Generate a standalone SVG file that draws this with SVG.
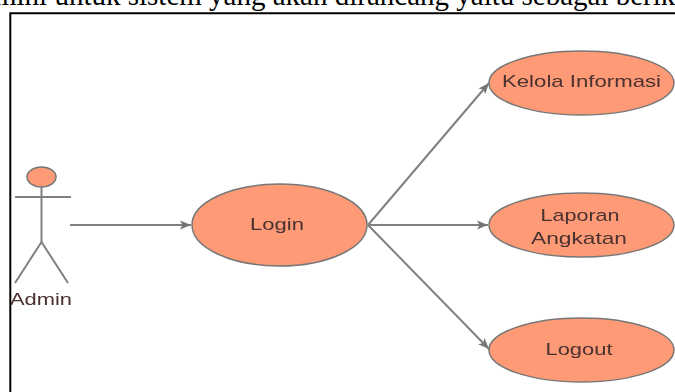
<svg xmlns="http://www.w3.org/2000/svg" width="675" height="392" viewBox="0 0 675 392">
<style>
.uc{fill:#fe9a75;stroke:#777;stroke-width:1.500}
.ln{fill:none;stroke:#808080;stroke-width:2}
.t{font-family:"Liberation Sans",Arial,sans-serif;font-size:17px;fill:#4a3030;text-anchor:middle}
</style>
<defs>
<marker id="a" markerUnits="userSpaceOnUse" markerWidth="12" markerHeight="10" refX="11" refY="5" orient="auto"><path d="M0 0.500L11 5L0 9.500L2.500 5Z" fill="#757575"/></marker>
<filter id="b" x="-5%" y="-5%" width="110%" height="110%"><feGaussianBlur stdDeviation="0.500"/></filter>
</defs>
<rect width="675" height="392" fill="#fff"/>
<text x="-6" y="5" font-family="Liberation Serif,Times New Roman,serif" font-size="29" fill="#000">mini untuk sistem yang akan dirancang yaitu sebagai berikut</text>
<path d="M10.300 392V13.300H675" fill="none" stroke="#000" stroke-width="2"/>
<g filter="url(#b)">
<g id="connectors">
<path class="ln" d="M70 225H191" marker-end="url(#a)"/>
<path class="ln" d="M368 225L489 83" marker-end="url(#a)"/>
<path class="ln" d="M368 225H488" marker-end="url(#a)"/>
<path class="ln" d="M368 225L489 349" marker-end="url(#a)"/>
</g>
<g id="actor-admin">
<ellipse class="uc" cx="41.500" cy="177" rx="14.500" ry="10"/>
<path class="ln" d="M15 197H71M41.500 187V242M41.500 242L15 283M41.500 242L68 283"/>
<text class="t" x="41" y="305" textLength="62" lengthAdjust="spacingAndGlyphs">Admin</text>
</g>
<g id="uc-login"><ellipse class="uc" cx="279.500" cy="225" rx="87.500" ry="41"/><text class="t" x="277" y="230" textLength="54" lengthAdjust="spacingAndGlyphs">Login</text></g>
<g id="uc-kelola"><ellipse class="uc" cx="581.500" cy="83" rx="92.500" ry="32"/><text class="t" x="581.500" y="87" textLength="159" lengthAdjust="spacingAndGlyphs">Kelola Informasi</text></g>
<g id="uc-laporan"><ellipse class="uc" cx="581.500" cy="225" rx="92.500" ry="32"/><text class="t" x="580" y="221" textLength="79" lengthAdjust="spacingAndGlyphs">Laporan</text><text class="t" x="579" y="244" textLength="96" lengthAdjust="spacingAndGlyphs">Angkatan</text></g>
<g id="uc-logout"><ellipse class="uc" cx="581.500" cy="350" rx="92.500" ry="32"/><text class="t" x="579" y="355" textLength="67" lengthAdjust="spacingAndGlyphs">Logout</text></g>
</g>
</svg>
